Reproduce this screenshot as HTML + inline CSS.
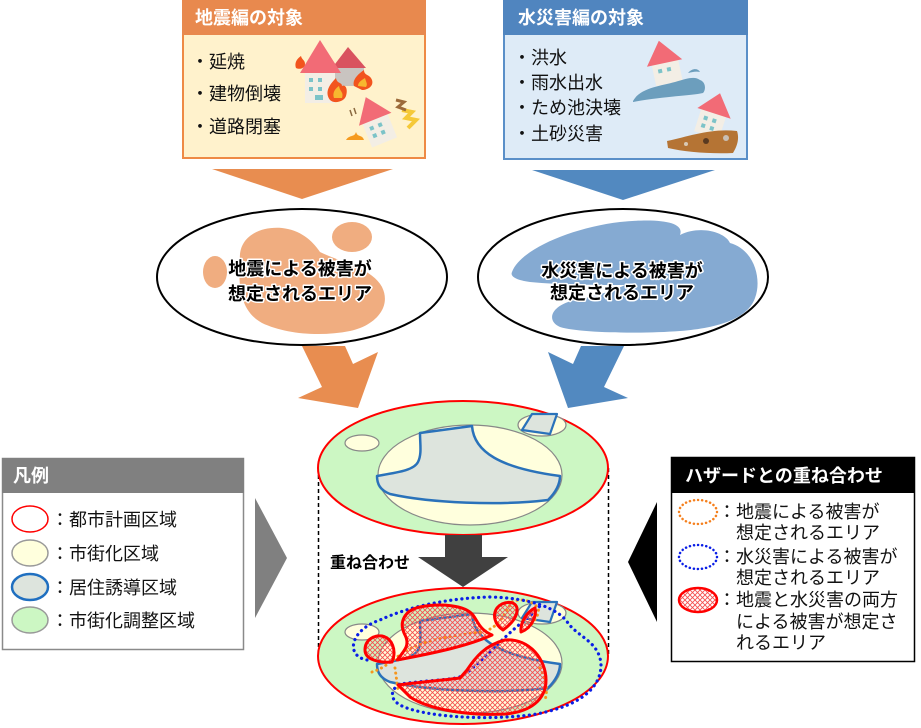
<!DOCTYPE html>
<html><head><meta charset="utf-8">
<style>
html,body{margin:0;padding:0;background:#fff;}
svg{display:block;}
text{font-family:"Liberation Sans","Noto Sans CJK JP",sans-serif;}
</style></head>
<body>
<svg width="921" height="728" viewBox="0 0 921 728" xmlns="http://www.w3.org/2000/svg">
<defs>
<pattern id="hatch" width="5" height="5" patternUnits="userSpaceOnUse">
<path d="M0,0 L5,5 M5,0 L0,5 M-1,4 L1,6 M4,-1 L6,1" stroke="#F45050" stroke-width="0.9" fill="none"/>
</pattern>
</defs>

<!-- Earthquake box -->
<rect x="183" y="1" width="242" height="157" fill="#FFF2CC" stroke="#EE8A45" stroke-width="2"/>
<rect x="182" y="0" width="244" height="35" fill="#E8894E"/>
<text x="195" y="24" font-size="18" font-weight="bold" fill="#fff">地震編の対象</text>
<text x="191" y="68" font-size="18" fill="#111">・延焼</text>
<text x="191" y="100" font-size="18" fill="#111">・建物倒壊</text>
<text x="191" y="133" font-size="18" fill="#111">・道路閉塞</text>
<!-- eq illustrations -->
<polygon points="332,68 348,47 366,68" fill="#D9535F"/>
<rect x="334" y="68" width="30" height="18" fill="#C9C4C0"/>
<rect x="305" y="72" width="30" height="31" fill="#F3EEE5"/>
<polygon points="300,73 320,40 341,73" fill="#F26B76"/>
<rect x="309" y="78" width="4" height="4" fill="#7CC3C8"/><rect x="318" y="78" width="4" height="4" fill="#7CC3C8"/>
<rect x="309" y="87" width="4" height="4" fill="#7CC3C8"/><rect x="318" y="87" width="4" height="4" fill="#7CC3C8"/>
<rect x="315" y="95" width="8" height="5" fill="#7CC3C8"/>
<path d="M330,100 C324,92 330,84 336,78 C337,84 342,82 342,86 C346,84 348,90 346,96 C344,102 334,104 330,100 Z" fill="#F2541E"/>
<path d="M334,98 C332,92 336,88 339,86 C340,92 344,92 342,98 Z" fill="#F7B72F"/>
<path d="M354,86 C352,80 358,74 364,70 C364,76 370,74 372,80 C374,86 368,90 362,90 Z" fill="#F2541E"/>
<path d="M358,86 C358,82 362,80 365,78 C366,82 368,84 366,87 Z" fill="#F7B72F"/>
<path d="M296,68 C294,62 298,58 301,56 C302,60 305,60 305,64 C305,68 300,70 296,68 Z" fill="#F2541E"/>
<g transform="rotate(-22 377 125)">
<rect x="364" y="118" width="27" height="26" fill="#F3EEE5"/>
<polygon points="360,119 377,95 395,119" fill="#F26B76"/>
<rect x="369" y="124" width="4" height="4" fill="#7CC3C8"/><rect x="378" y="124" width="4" height="4" fill="#7CC3C8"/>
<rect x="369" y="132" width="4" height="4" fill="#7CC3C8"/><rect x="378" y="132" width="4" height="4" fill="#7CC3C8"/>
</g>
<polyline points="402,110 412,112 406,118 416,120 408,128" fill="none" stroke="#F5C938" stroke-width="4"/>
<polyline points="396,100 404,102 398,107 406,110" fill="none" stroke="#9C6A3A" stroke-width="3"/>
<path d="M346,140 C350,134 354,138 356,132 C358,138 362,134 364,140 Z" fill="#F59A1E"/>
<line x1="350" y1="110" x2="352" y2="116" stroke="#8a6a40" stroke-width="1.5"/><line x1="354" y1="108" x2="356" y2="114" stroke="#8a6a40" stroke-width="1.5"/>

<!-- Water box -->
<rect x="504" y="1" width="243" height="158" fill="#DEEBF7" stroke="#5A8FC8" stroke-width="2"/>
<rect x="503" y="0" width="245" height="35" fill="#5085BF"/>
<text x="518" y="24" font-size="18" font-weight="bold" fill="#fff">水災害編の対象</text>
<text x="513" y="64" font-size="18" fill="#111">・洪水</text>
<text x="513" y="89" font-size="18" fill="#111">・雨水出水</text>
<text x="513" y="114" font-size="18" fill="#111">・ため池決壊</text>
<text x="513" y="140" font-size="18" fill="#111">・土砂災害</text>
<g transform="rotate(-12 665 65)">
<rect x="652" y="62" width="27" height="22" fill="#F3EEE5"/>
<polygon points="647,63 664,40 683,63" fill="#F26B76"/>
<rect x="657" y="68" width="4" height="4" fill="#7CC3C8"/><rect x="666" y="68" width="4" height="4" fill="#7CC3C8"/>
</g>
<path d="M633,101 C640,88 660,86 675,82 C688,78 695,76 700,80 C706,82 706,90 703,93 C690,96 665,96 633,102 Z" fill="#6C9EBD"/>
<path d="M688,73 C692,68 698,68 700,72 C696,71 692,72 688,73 Z" fill="#6C9EBD"/>
<g transform="rotate(18 712 118)">
<rect x="699" y="112" width="26" height="24" fill="#F3EEE5"/>
<polygon points="695,113 712,92 730,113" fill="#F26B76"/>
<rect x="704" y="118" width="4" height="4" fill="#7CC3C8"/><rect x="713" y="118" width="4" height="4" fill="#7CC3C8"/>
<rect x="704" y="126" width="4" height="4" fill="#7CC3C8"/><rect x="713" y="126" width="4" height="4" fill="#7CC3C8"/>
</g>
<path d="M667,141 C690,136 712,128 737,131 C740,140 736,148 733,153 C710,154 685,152 668,148 Z" fill="#B57434"/>
<circle cx="706" cy="141" r="3" fill="#5a3a20"/><circle cx="726" cy="138" r="3" fill="#c9bfb4"/><circle cx="686" cy="144" r="2" fill="#d9c9b4"/>

<!-- Top triangles -->
<polygon points="212,169 393,169 302,199" fill="#E88D50"/>
<polygon points="532,170 715,170 623,200" fill="#5289C0"/>

<!-- Earthquake ellipse -->
<ellipse cx="302" cy="277" rx="145" ry="68" fill="#fff" stroke="#000" stroke-width="2"/>
<path d="M240,260 C238,238 258,226 282,228 C300,230 312,240 320,252 C340,262 372,268 382,287 C392,307 375,326 350,331 C320,337 285,334 262,323 C240,311 238,285 240,260 Z" fill="#F0AD80"/>
<ellipse cx="352" cy="237" rx="20" ry="15" fill="#F0AD80"/>
<ellipse cx="215" cy="272" rx="12" ry="16" fill="#F0AD80"/>
<g font-size="18" font-weight="bold" text-anchor="middle" fill="#000" stroke="#fff" stroke-width="3" paint-order="stroke" stroke-linejoin="round">
<text x="300" y="275">地震による被害が</text>
<text x="300" y="300">想定されるエリア</text>
</g>

<!-- Water ellipse -->
<ellipse cx="623" cy="277" rx="145" ry="68" fill="#fff" stroke="#000" stroke-width="2"/>
<path d="M512,272 C520,250 570,228 620,222 C660,218 685,222 680,235 C700,225 725,232 730,243 C755,250 762,280 755,298 C748,318 720,328 680,331 C640,334 580,333 560,327 C545,320 552,305 575,300 C600,295 615,290 625,285 C600,285 560,285 530,282 C515,280 510,276 512,272 Z" fill="#85AAD2"/>
<g font-size="18" font-weight="bold" text-anchor="middle" fill="#000" stroke="#fff" stroke-width="3" paint-order="stroke" stroke-linejoin="round">
<text x="622" y="277">水災害による被害が</text>
<text x="622" y="299">想定されるエリア</text>
</g>

<!-- diagonal arrows -->
<polygon points="302,346 345,346 353,364 378,352 358,408 298,398 322,387" fill="#E88D50"/>
<polygon points="624,346 581,346 573,364 548,352 568,408 628,398 604,387" fill="#5289C0"/>

<!-- dashed cylinder sides -->
<line x1="318.5" y1="468" x2="318.5" y2="657" stroke="#000" stroke-width="1.5" stroke-dasharray="4 3"/>
<line x1="608.5" y1="468" x2="608.5" y2="657" stroke="#000" stroke-width="1.5" stroke-dasharray="4 3"/>

<!-- Top map ellipse -->
<ellipse cx="463" cy="468" rx="145" ry="67" fill="#CCF7C3" stroke="#F00" stroke-width="2"/>
<ellipse cx="362" cy="443" rx="17" ry="8" fill="#FFFFDD" stroke="#888" stroke-width="1.2"/>
<ellipse cx="542" cy="425" rx="24" ry="11" fill="#FFFFDD" stroke="#888" stroke-width="1.2"/>
<polygon points="532,414 557,414 550,434 522,430" fill="#DDE4DD" stroke="#2A72BA" stroke-width="2.2" stroke-linejoin="round"/>
<ellipse cx="470" cy="475" rx="92" ry="50" fill="#FFFFDD" stroke="#888" stroke-width="1.2"/>
<path d="M420,433 L472,426 C474,452 500,468 560,476 C560,486 553,495 548,500 C500,506 430,503 390,494 C380,490 377,484 377,476 C400,472 414,470 418,462 C422,454 420,444 420,433 Z" fill="#DDE4DD" stroke="#2A72BA" stroke-width="2.5" stroke-linejoin="round"/>

<!-- black arrow -->
<polygon points="445,535 482,535 482,557 508,557 463,587 418,557 445,557" fill="#404040"/>
<text x="330" y="568" font-size="16" font-weight="bold" fill="#000">重ね合わせ</text>

<!-- Bottom map ellipse -->
<ellipse cx="463" cy="656" rx="145" ry="68" fill="#CCF7C3" stroke="#F00" stroke-width="2"/>
<ellipse cx="362" cy="632" rx="17" ry="8" fill="#FFFFDD" stroke="#888" stroke-width="1.2"/>
<ellipse cx="542" cy="613" rx="24" ry="11" fill="#FFFFDD" stroke="#888" stroke-width="1.2"/>
<polygon points="532,602 557,602 550,622 522,618" fill="#DDE4DD" stroke="#2A72BA" stroke-width="2.2" stroke-linejoin="round"/>
<ellipse cx="470" cy="663" rx="92" ry="50" fill="#FFFFDD" stroke="#888" stroke-width="1.2"/>
<path d="M420,621 L472,614 C474,640 500,656 560,664 C560,674 553,683 548,688 C500,694 430,691 390,682 C380,678 377,672 377,664 C400,660 414,658 418,650 C422,642 420,632 420,621 Z" fill="#DDE4DD" stroke="#2A72BA" stroke-width="2.5" stroke-linejoin="round"/>
<!-- orange dotted -->
<g fill="none" stroke="#F5961E" stroke-width="3" stroke-dasharray="0.1 5" stroke-linecap="round">
<path d="M372,672 C385,668 392,660 400,655 C420,640 450,636 482,632 C500,628 505,612 512,602 C520,598 532,600 538,608 C540,614 534,622 528,628"/>
<path d="M395,668 L398,690"/>
<path d="M540,668 C546,680 548,690 545,700"/>
</g>
<!-- blue dotted -->
<g fill="none" stroke="#0A1EE6" stroke-width="3.2" stroke-dasharray="0.1 5.5" stroke-linecap="round">
<path d="M367,660 C345,656 350,630 380,620 C410,606 450,598 490,597 C530,598 558,608 568,623 C578,637 600,642 601,665 C601,690 576,708 530,715 C480,721 420,716 400,705 C388,698 392,688 400,684 C430,680 455,680 462,676 C480,664 495,645 520,624 C528,618 534,612 540,606"/>
</g>
<!-- red hatched -->
<g fill="url(#hatch)" stroke="#FF0000" stroke-width="3" stroke-linejoin="round">
<path d="M392,662 C380,663 365,660 365,650 C365,639 375,635 382,636 C392,638 397,650 392,662 Z"/>
<path d="M397,660 C405,650 410,645 405,635 C398,622 405,610 420,607 C440,603 465,605 473,615 C478,622 480,630 492,635 C470,645 440,652 397,660 Z"/>
<path d="M398,685 C420,682 445,680 460,678 L467,670 C475,658 485,645 505,640 C530,638 546,660 546,680 C546,700 530,712 505,714 C470,716 430,710 410,697 Z"/>
<path d="M503,630 C495,625 492,615 497,608 C503,601 515,600 517,608 C518,617 510,625 503,630 Z"/>
<path d="M521,632 C520,622 527,612 535,608 C537,615 532,628 521,632 Z"/>
</g>

<!-- Left legend -->
<rect x="2.5" y="458.5" width="241" height="191" fill="#fff" stroke="#8a8a8a" stroke-width="1.5"/>
<rect x="2" y="458" width="242" height="35" fill="#808080"/>
<text x="13" y="482" font-size="18" font-weight="bold" fill="#fff">凡例</text>
<ellipse cx="30" cy="519" rx="18" ry="13" fill="#fff" stroke="#F00" stroke-width="1.5"/>
<ellipse cx="30" cy="553" rx="18" ry="13" fill="#FFFFDD" stroke="#999" stroke-width="1.5"/>
<ellipse cx="30" cy="587" rx="18" ry="13" fill="#DDE4DD" stroke="#1F6FC0" stroke-width="2.5"/>
<ellipse cx="30" cy="620" rx="18" ry="13" fill="#CCF7C3" stroke="#999" stroke-width="1.5"/>
<g font-size="18" fill="#111">
<text x="51" y="526">：都市計画区域</text>
<text x="51" y="560">：市街化区域</text>
<text x="51" y="594">：居住誘導区域</text>
<text x="51" y="627">：市街化調整区域</text>
</g>
<polygon points="255,498 255,618 287,558" fill="#808080"/>

<!-- Right legend -->
<polygon points="657,502 657,622 628,562" fill="#000"/>
<rect x="671.5" y="457.5" width="243" height="204" fill="#fff" stroke="#000" stroke-width="1.5"/>
<rect x="671" y="457" width="244" height="36" fill="#000"/>
<text x="685" y="482" font-size="18" font-weight="bold" fill="#fff">ハザードとの重ね合わせ</text>
<ellipse cx="698" cy="512" rx="19" ry="12" fill="none" stroke="#F5801E" stroke-width="2.5" stroke-dasharray="0.1 4" stroke-linecap="round"/>
<ellipse cx="698" cy="557" rx="19" ry="12" fill="none" stroke="#0A1EE6" stroke-width="2.5" stroke-dasharray="0.1 4" stroke-linecap="round"/>
<ellipse cx="698" cy="600" rx="19" ry="12" fill="url(#hatch)" stroke="#F00" stroke-width="2.5"/>
<g font-size="18" fill="#111">
<text x="718" y="518">：地震による被害が</text>
<text x="736" y="539">想定されるエリア</text>
<text x="718" y="563">：水災害による被害が</text>
<text x="736" y="584">想定されるエリア</text>
<text x="718" y="606">：地震と水災害の両方</text>
<text x="736" y="628">による被害が想定さ</text>
<text x="736" y="649">れるエリア</text>
</g>
</svg>
</body></html>
